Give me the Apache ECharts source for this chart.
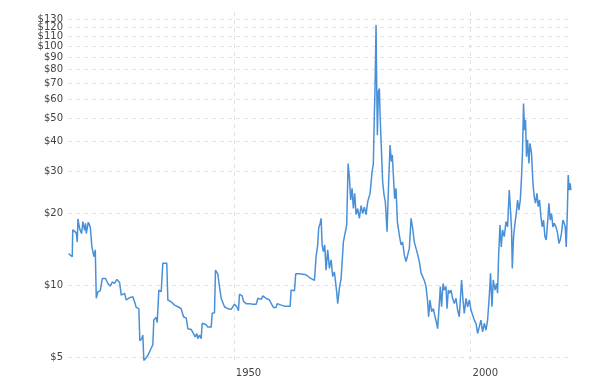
<!DOCTYPE html>
<html><head><meta charset="utf-8">
<script src="https://cdn.jsdelivr.net/npm/echarts@6/dist/echarts.min.js"></script>
<style>html,body{margin:0;padding:0;background:#fff}#c{width:605px;height:381px}</style>
</head><body><div id="c"></div>
<script>
const years = [
1915.13,1915.9,1916.0,1916.75,1916.96,1917.1,1917.45,1917.87,1918.14,1918.5,1918.71,1918.86,1919.28,1919.7,1920.04,1920.46,1920.76,1920.97,1921.31,1921.81,
1922.24,1922.93,1923.42,1923.92,1924.35,1924.83,1925.32,1925.89,1926.24,1926.94,1927.3,1928.0,1928.69,1929.05,1929.41,1929.96,1930.17,1930.59,1930.8,1931.01,
1931.86,1932.91,1933.12,1933.63,1933.84,1934.18,1934.68,1935.02,1935.86,1936.08,1936.79,1937.49,1938.19,1938.9,1939.39,1939.96,1940.3,1941.01,1941.35,1941.86,
1942.19,1942.41,1942.76,1943.12,1943.33,1944.18,1944.51,1945.23,1945.44,1945.93,1946.14,1946.62,1946.98,1947.34,1947.68,1948.04,1948.4,1948.73,1949.45,1950.15,
1950.63,1950.99,1951.2,1951.77,1952.05,1952.62,1953.31,1954.01,1954.73,1955.1,1955.78,1956.12,1956.84,1957.53,1958.1,1958.38,1958.95,1959.16,1960.0,1960.7,
1961.18,1961.9,1962.11,1962.81,1963.08,1963.86,1965.27,1965.97,1967.03,1967.25,1967.38,1967.72,1967.93,1968.23,1968.44,1968.65,1968.92,1969.2,1969.49,1969.83,
1970.19,1970.55,1970.89,1971.24,1971.73,1971.94,1972.3,1972.66,1973.14,1973.57,1973.84,1974.14,1974.41,1974.68,1974.98,1975.25,1975.53,1975.82,1976.16,1976.52,
1976.88,1977.22,1977.57,1977.93,1978.27,1978.78,1979.2,1979.47,1979.68,1979.83,1979.96,1980.04,1980.17,1980.32,1980.53,1980.74,1980.89,1981.16,1981.43,1981.73,
1982.0,1982.36,1982.7,1983.0,1983.27,1983.48,1983.69,1983.97,1984.26,1984.54,1984.96,1985.32,1985.65,1986.01,1986.37,1986.71,1987.07,1987.43,1987.76,1988.12,
1988.48,1988.82,1989.18,1989.54,1989.87,1990.23,1990.59,1990.93,1991.14,1991.43,1991.77,1992.13,1992.49,1992.83,1993.04,1993.4,1993.61,1993.88,1994.18,1994.45,
1994.81,1995.02,1995.3,1995.57,1995.86,1996.2,1996.56,1996.92,1997.26,1997.62,1997.83,1998.1,1998.4,1998.67,1999.03,1999.37,1999.73,2000.08,2000.42,2000.78,
2001.14,2001.48,2001.84,2002.19,2002.53,2002.89,2003.25,2003.59,2003.94,2004.22,2004.51,2004.79,2005.15,2005.49,2005.7,2005.91,2006.2,2006.48,2006.75,2007.11,
2007.47,2007.81,2008.16,2008.38,2008.65,2008.8,2009.07,2009.37,2009.64,2009.92,2010.21,2010.49,2010.76,2010.97,2011.18,2011.39,2011.6,2011.81,2012.03,2012.32,
2012.53,2012.87,2013.16,2013.44,2013.71,2014.01,2014.28,2014.56,2014.85,2015.13,2015.4,2015.7,2015.97,2016.24,2016.54,2016.81,2017.09,2017.38,2017.66,2018.02,
2018.35,2018.65,2018.92,2019.2,2019.49,2019.77,2019.98,2020.19,2020.4,2020.61,2020.82,2021.03,2021.18
];
const prices = [
13.6,13.2,17.1,16.6,15.2,19.0,17.3,16.5,18.5,17.0,18.2,16.5,18.4,17.6,14.55,13.2,14.1,8.84,9.42,9.5,
10.7,10.7,10.2,9.95,10.35,10.2,10.6,10.3,9.12,9.28,8.7,8.9,8.98,8.55,8.1,8.0,5.88,6.0,6.2,4.85,
5.1,5.65,7.17,7.36,7.0,9.57,9.42,12.4,12.4,8.7,8.55,8.28,8.15,8.0,7.4,7.3,6.6,6.55,6.5,6.1,
6.3,6.0,6.2,6.0,6.95,6.85,6.7,6.7,7.65,7.7,11.6,11.2,9.9,8.84,8.7,8.15,8.28,8.0,7.95,8.35,
8.15,7.85,9.2,9.05,8.6,8.4,8.4,8.35,8.35,8.84,8.75,9.05,8.84,8.7,8.28,8.1,8.1,8.4,8.28,8.2,
8.2,8.2,9.57,9.5,11.2,11.2,11.1,10.8,10.5,10.4,13.2,14.8,17.4,18.2,19.1,14.8,13.85,14.8,11.6,14.1,
11.8,12.8,10.9,11.4,9.4,8.4,9.75,10.7,15.2,16.8,17.9,32.4,28.5,22.8,25.5,21.0,24.3,19.8,21.0,19.1,
21.6,20.0,21.3,19.8,22.4,24.3,29.9,32.4,51.8,66.7,98,123,71,42.6,64.7,66.7,51.8,37.5,27.2,23.9,
22.4,16.8,27.2,38.7,33.0,35.2,29.0,23.1,25.5,18.5,16.2,14.8,15.2,13.4,12.6,13.4,14.3,19.1,17.4,15.2,
15.0,13.5,12.6,11.3,11.2,10.5,9.9,8.55,7.4,8.7,7.78,8.0,7.4,6.95,6.6,8.4,9.9,8.15,10.2,9.57,
9.9,8.0,9.57,9.28,9.57,8.84,8.4,8.84,7.9,7.4,8.7,10.55,8.7,7.65,8.84,8.15,8.7,7.9,7.78,7.17,
6.95,6.3,6.2,7.17,6.4,6.95,6.5,7.17,9.0,11.25,8.15,10.55,9.57,10.2,9.28,13.2,17.9,14.5,17.1,16.0,
18.5,17.6,25.1,21.4,17.1,11.8,16.0,18.2,20.0,22.8,20.7,22.8,28.5,36.9,57.7,44.7,49.4,34.6,40.7,32.4,
39.3,35.7,26.8,23.5,22.1,24.3,21.4,22.8,19.4,17.6,18.8,16.0,15.5,18.2,22.1,18.8,20.0,17.6,18.2,17.6,
16.6,15.0,15.5,16.6,18.8,18.2,17.6,14.5,19.4,29.0,25.1,26.8,25.1
];
const yTicks = [5,10,20,30,40,50,60,70,80,90,100,110,120,130];
const yTicksAlt = [100,120];
const xTicks = [1950, 2000];

const yTicksMain = yTicks.filter(v => yTicksAlt.indexOf(v) < 0);
const chart = echarts.init(document.getElementById('c'), null, {renderer:'canvas'});
const gridLine = {show:true, lineStyle:{type:[4,4], color:'#e2e2e2', width:1}};
const labelStyle = {color:'#444', fontSize:10, fontFamily:'DejaVu Sans'};
const yBase = {type:'log', logBase:10, min:4.88, max:139.5, position:'left', offset:0,
  axisLine:{show:false}};
chart.setOption({
  animation:false,
  grid:{left:68, right:34, top:12, bottom:21},
  xAxis:{
    type:'value', min:1915, max:2021.2,
    axisLine:{show:false},
    axisTick:{show:false, customValues:xTicks},
    axisLabel:Object.assign({customValues:xTicks, align:'left', padding:[0,0,0,2], margin:8,
      formatter:v=>String(Math.round(v))}, labelStyle),
    splitLine:gridLine
  },
  yAxis:[
    Object.assign({}, yBase, {
      axisTick:{show:false, customValues:yTicks},
      axisLabel:Object.assign({customValues:yTicksMain, margin:5,
        formatter:v=>'$' + Math.round(v)}, labelStyle),
      splitLine:gridLine
    }),
    Object.assign({}, yBase, {
      axisTick:{show:false, customValues:yTicksAlt},
      axisLabel:Object.assign({customValues:yTicksAlt, margin:5,
        formatter:v=>'$' + Math.round(v)}, labelStyle),
      splitLine:{show:false}
    })
  ],
  series:[{
    type:'line',
    yAxisIndex:0,
    data:years.map((y,i)=>[y, prices[i]]),
    showSymbol:false,
    silent:true,
    lineStyle:{color:'#4a90d9', width:1.5},
    itemStyle:{color:'#4a90d9'}
  }]
});
</script>
</body></html>
